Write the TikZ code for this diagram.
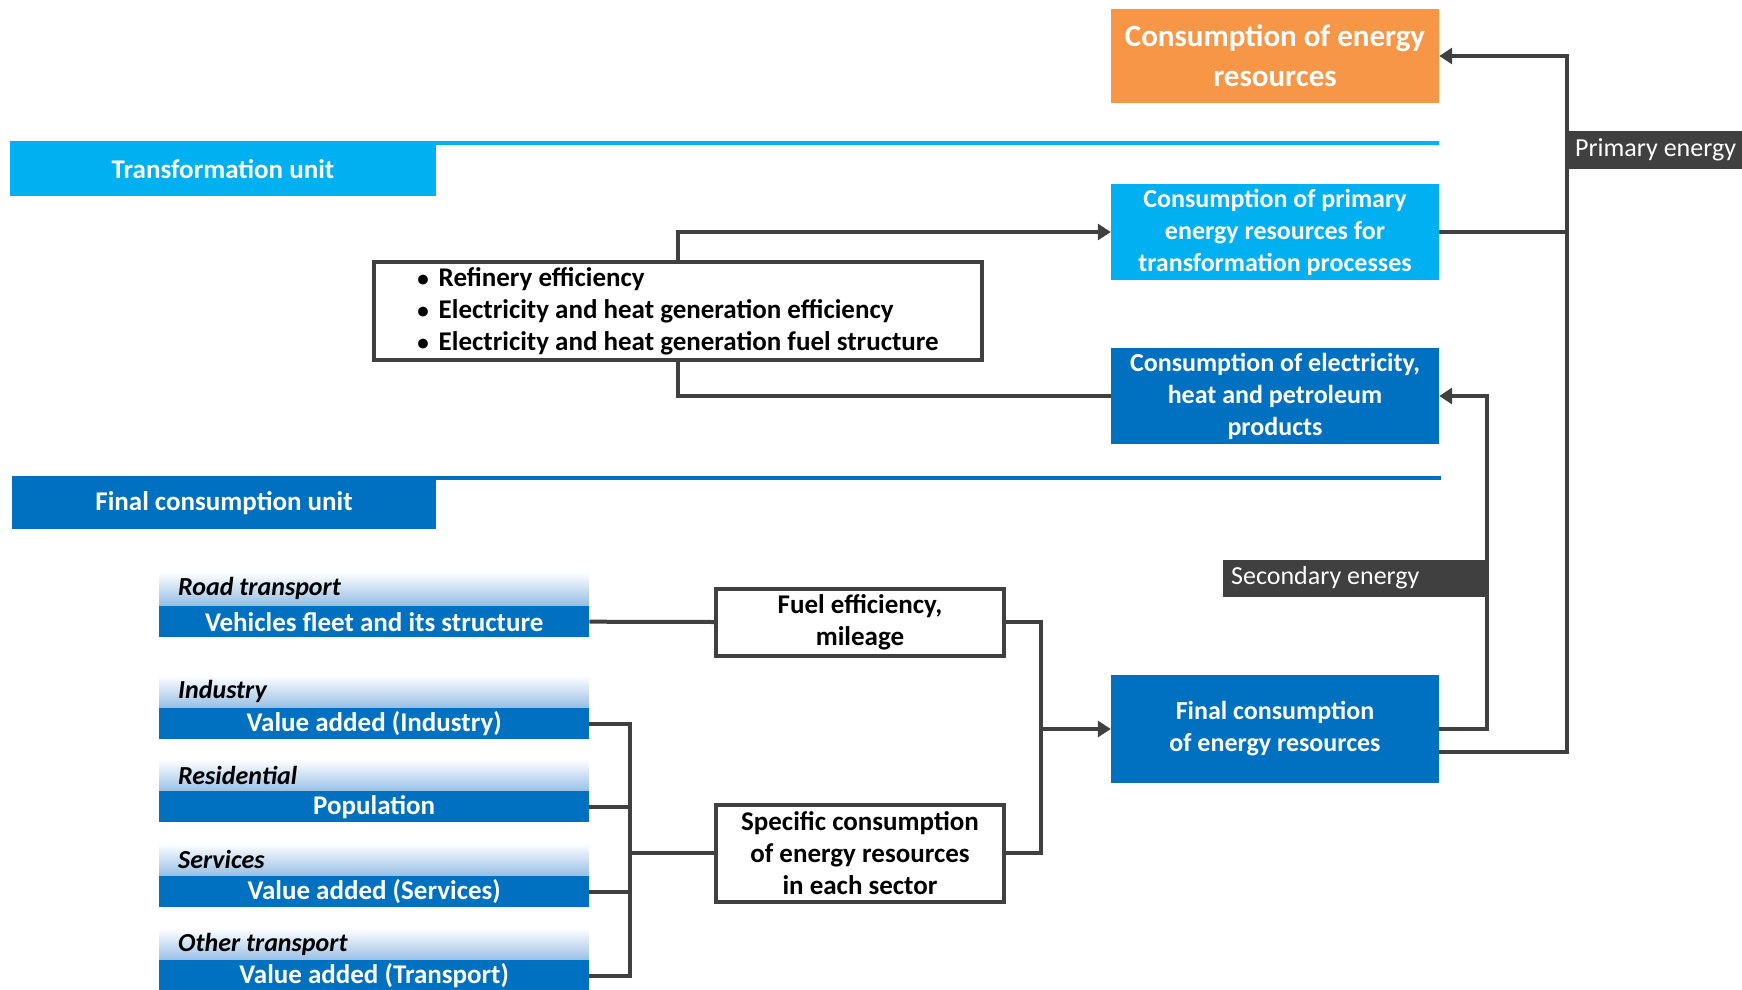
\documentclass[tikz,border=0pt]{standalone}
\usepackage{fontspec}
\setmainfont{Carlito}
\usepackage{xcolor}
\usepackage{tikz}
\usetikzlibrary{arrows.meta, positioning}
\definecolor{energyorange}{RGB}{247, 150, 70}
\definecolor{transcyan}{RGB}{0, 176, 240}
\definecolor{finalblue}{RGB}{0, 112, 192}
\definecolor{headblue}{RGB}{150, 190, 228}
\definecolor{linegray}{RGB}{64, 64, 64}

\begin{document}
\begin{tikzpicture}[
    x=1pt, y=-1pt,
    every node/.style={inner sep=0pt},
    txt/.style={font=\fontsize{26}{32}\selectfont\bfseries},
    bigtxt/.style={font=\fontsize{27}{32}\selectfont\bfseries},
    mainbox/.style={txt, minimum width=328pt, text=white, align=center},
    unitbox/.style={bigtxt, text=white, align=center},
    factor/.style={bigtxt, draw=linegray, line width=4pt, fill=white, align=center},
    header/.style={font=\fontsize{26}{30}\selectfont\bfseries\itshape, anchor=north west,
                   minimum height=33pt, inner xsep=19pt, text width=392pt, align=flush left,
                   top color=white, bottom color=headblue},
    bar/.style={bigtxt, anchor=north west, minimum width=430pt, minimum height=31pt,
                fill=finalblue, text=white},
    tag/.style={font=\fontsize{26}{30}\selectfont, fill=linegray, text=white, anchor=west,
                inner xsep=8pt, align=flush left},
    link/.style={draw=linegray, line width=4pt},
    arr/.style={link, -{Triangle[length=13pt, width=16pt]}}
]
    \useasboundingbox (0,0) rectangle (1742,990);

    % Unit separators
    \draw[transcyan, line width=4pt] (10,143) -- (1439,143);
    \draw[finalblue, line width=4pt] (12,478) -- (1441,478);
    \node[unitbox, fill=transcyan, minimum width=426pt, minimum height=53pt] (tunit) at (223,169) {Transformation unit};
    \node[unitbox, fill=finalblue, minimum width=424pt, minimum height=51pt] (funit) at (224,503) {Final consumption unit};

    % Right column
    \node[mainbox, fill=energyorange, minimum height=93pt, font=\fontsize{31}{40}\selectfont\bfseries] (cres) at (1275,56) {Consumption of energy\\resources};
    \node[mainbox, fill=transcyan, minimum height=96pt] (cprim) at (1275,232) {Consumption of primary\\energy resources for\\transformation processes};
    \node[mainbox, fill=finalblue, minimum height=96pt] (celec) at (1275,396) {Consumption of electricity,\\heat and petroleum\\products};
    \node[mainbox, fill=finalblue, minimum height=108pt] (final) at (1275,729) {Final consumption\\of energy resources};

    % Transformation factors
    \node[factor, minimum width=608pt, minimum height=98pt, align=left] (eff) at (678,311)
        {{\fontsize{23}{23}\selectfont\textbullet}\hspace{10pt}Refinery efficiency\\
         {\fontsize{23}{23}\selectfont\textbullet}\hspace{10pt}Electricity and heat generation efficiency\\
         {\fontsize{23}{23}\selectfont\textbullet}\hspace{10pt}Electricity and heat generation fuel structure};

    % Sectors
    \node[header] (trhead) at (159,572) {Road transport};
    \node[bar] (trbar) at (159,606) {Vehicles fleet and its structure};
    \node[header] (indhead) at (159,675) {Industry};
    \node[bar] (indbar) at (159,708) {Value added (Industry)};
    \node[header] (reshead) at (159,759) {Residential};
    \node[bar] (resbar) at (159,791) {Population};
    \node[header] (serhead) at (159,843) {Services};
    \node[bar] (serbar) at (159,876) {Value added (Services)};
    \node[header] (othhead) at (159,928) {Other transport};
    \node[bar] (othbar) at (159,960) {Value added (Transport)};

    % Final consumption factors
    \node[factor, minimum width=288pt, minimum height=67pt] (fuel) at (860,622) {Fuel efficiency,\\mileage};
    \node[factor, minimum width=288pt, minimum height=97pt] (spec) at (860,853) {Specific consumption\\of energy resources\\in each sector};

    \coordinate (brk) at (630,853);
    \coordinate (join) at (1041,729);
    \coordinate (secx) at (1487,560);
    \coordinate (prix) at (1567,150);

    % Connectors
    \draw[link] (trbar.east) -- (fuel.west);
    \draw[link] (indbar.east) -| (brk);
    \draw[link] (resbar.east) -| (brk);
    \draw[link] (serbar.east) -| (brk);
    \draw[link] (othbar.east) -| (brk);
    \draw[link] (brk) -- (spec.west);
    \draw[link] (fuel.east) -| (join);
    \draw[link] (spec.east) -| (join);
    \draw[arr] (join) -- (final.west);
    \draw[arr] (eff.north) |- (cprim.west);
    \draw[link] (eff.south) |- (celec.west);
    \draw[arr] (final.east) -| (secx) |- (celec.east);
    \draw[arr] ([yshift=-23pt]final.east) -| (prix) |- (cres.east);
    \draw[link] (cprim.east) -- (cprim.east -| prix);

    % Energy tags
    \node[tag, minimum height=38pt, text width=175pt] (ptag) at (1567,150) {Primary energy};
    \node[tag, minimum height=37pt, text width=248pt] (stag) at (1223,578) {Secondary energy};
\end{tikzpicture}
\end{document}
